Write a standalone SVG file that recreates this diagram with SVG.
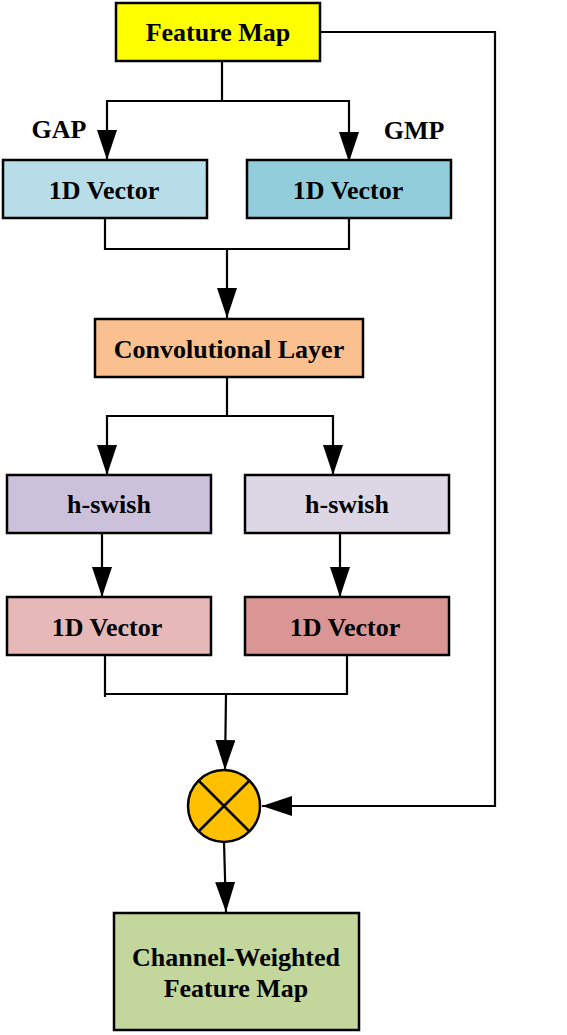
<svg xmlns="http://www.w3.org/2000/svg" width="567" height="1035" viewBox="0 0 567 1035">
<style>
.box{stroke:#000;stroke-width:2.5}
.t{font-family:"Liberation Serif","Times New Roman",serif;font-weight:bold;font-size:26px;text-anchor:middle;fill:#000}
.c{fill:none;stroke:#000;stroke-width:2.2}
</style>
<defs>
<marker id="ah" viewBox="0 0 30 20" refX="30" refY="10" markerWidth="30" markerHeight="20" markerUnits="userSpaceOnUse" orient="auto">
<path d="M0,0 L30,10 L0,20 z" fill="#000"/>
</marker>
</defs>
<rect width="567" height="1035" fill="#fff"/>
<g id="connectors">
<polyline class="c" points="222,61 222,101"/>
<polyline class="c" points="222,101 107,101 107,160" marker-end="url(#ah)"/>
<polyline class="c" points="222,101 349,101 349,162" marker-end="url(#ah)"/>
<polyline class="c" points="105,218 105,249 349,249 349,218"/>
<polyline class="c" points="227,249 227,318" marker-end="url(#ah)"/>
<polyline class="c" points="227,377 227,416"/>
<polyline class="c" points="227,416 107,416 107,475" marker-end="url(#ah)"/>
<polyline class="c" points="227,416 333,416 333,475" marker-end="url(#ah)"/>
<polyline class="c" points="102,533 102,597" marker-end="url(#ah)"/>
<polyline class="c" points="340,533 340,597" marker-end="url(#ah)"/>
<polyline class="c" points="105,697 105,694 347,694 347,655"/>
<polyline class="c" points="105,655 105,694"/>
<polyline class="c" points="226,694 225,770" marker-end="url(#ah)"/>
<polyline class="c" points="320,32 495,32 495,806 262,806" marker-end="url(#ah)"/>
<polyline class="c" points="224,842 226,912" marker-end="url(#ah)"/>
</g>
<g id="feature-map">
<rect class="box" x="116" y="3" width="204" height="58" fill="#ffff00"/>
<text class="t" x="218" y="41">Feature Map</text>
</g>
<g id="label-gap"><text class="t" x="59" y="138">GAP</text></g>
<g id="label-gmp"><text class="t" x="414" y="139">GMP</text></g>
<g id="vec-gap">
<rect class="box" x="3" y="160" width="204" height="58" fill="#b7dde8"/>
<text class="t" x="104" y="199">1D Vector</text>
</g>
<g id="vec-gmp">
<rect class="box" x="247" y="160" width="204" height="58" fill="#92cddc"/>
<text class="t" x="348" y="199">1D Vector</text>
</g>
<g id="conv">
<rect class="box" x="95" y="319" width="268" height="58" fill="#fac090"/>
<text class="t" x="229" y="358">Convolutional Layer</text>
</g>
<g id="hswish-1">
<rect class="box" x="7" y="475" width="204" height="58" fill="#ccc1da"/>
<text class="t" x="109" y="513">h-swish</text>
</g>
<g id="hswish-2">
<rect class="box" x="245" y="475" width="204" height="58" fill="#ddd7e5"/>
<text class="t" x="347" y="513">h-swish</text>
</g>
<g id="vec-1">
<rect class="box" x="7" y="597" width="204" height="58" fill="#e6b9b8"/>
<text class="t" x="107" y="636">1D Vector</text>
</g>
<g id="vec-2">
<rect class="box" x="245" y="597" width="204" height="58" fill="#d99694"/>
<text class="t" x="345" y="636">1D Vector</text>
</g>
<g id="multiply">
<circle cx="224" cy="806" r="36" fill="#ffc000" stroke="#000" stroke-width="2.5"/>
<line x1="198.5" y1="780.5" x2="249.5" y2="831.5" stroke="#000" stroke-width="2.5"/>
<line x1="249.5" y1="780.5" x2="198.5" y2="831.5" stroke="#000" stroke-width="2.5"/>
</g>
<g id="output">
<rect class="box" x="114" y="913" width="245" height="117" fill="#c3d69b"/>
<text class="t" x="236" y="966">Channel-Weighted</text>
<text class="t" x="236" y="997">Feature Map</text>
</g>
</svg>
